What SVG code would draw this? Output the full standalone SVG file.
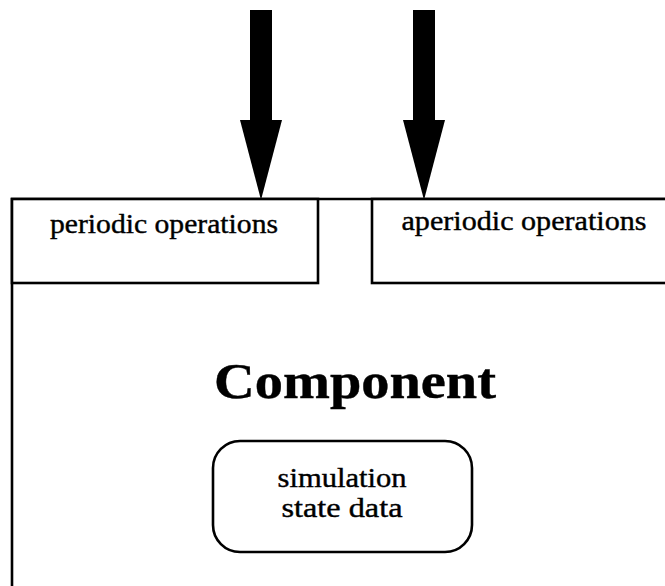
<svg xmlns="http://www.w3.org/2000/svg" width="665" height="586" viewBox="0 0 665 586">
<style>
.box{fill:#fff;stroke:#000;stroke-width:2.6}
.lbl{font-family:"Liberation Serif","DejaVu Serif",serif;fill:#000;stroke:#000;stroke-width:0.4;text-anchor:middle}
.arrow{stroke:#000;stroke-width:22;fill:none;marker-end:url(#head)}
</style>
<defs>
<marker id="head" markerUnits="userSpaceOnUse" markerWidth="80" markerHeight="42" refX="0" refY="21" orient="auto" overflow="visible">
<path d="M0,0 L80,21 L0,42 Z" fill="#000"/>
</marker>
</defs>
<rect width="665" height="586" fill="#fff"/>
<g id="component">
<path class="box" d="M12,590 L12,199 L670,199"/>
<text class="lbl" x="355" y="398" font-size="50" font-weight="bold" textLength="282" lengthAdjust="spacingAndGlyphs">Component</text>
</g>
<g id="periodic">
<rect class="box" x="12" y="199" width="306" height="84"/>
<text class="lbl" x="164" y="233" font-size="28" textLength="228" lengthAdjust="spacingAndGlyphs">periodic operations</text>
</g>
<g id="aperiodic">
<rect class="box" x="372" y="199" width="300" height="84"/>
<text class="lbl" x="524" y="230" font-size="28" textLength="245" lengthAdjust="spacingAndGlyphs">aperiodic operations</text>
</g>
<g id="state">
<rect class="box" x="213" y="441" width="259" height="111" rx="27" ry="27"/>
<text class="lbl" x="342" y="487" font-size="27" textLength="129" lengthAdjust="spacingAndGlyphs">simulation</text>
<text class="lbl" x="342" y="517" font-size="27" textLength="121" lengthAdjust="spacingAndGlyphs">state data</text>
</g>
<g id="connectors">
<line class="arrow" x1="261" y1="10" x2="261" y2="120"/>
<line class="arrow" x1="424" y1="10" x2="424" y2="120"/>
</g>
</svg>
